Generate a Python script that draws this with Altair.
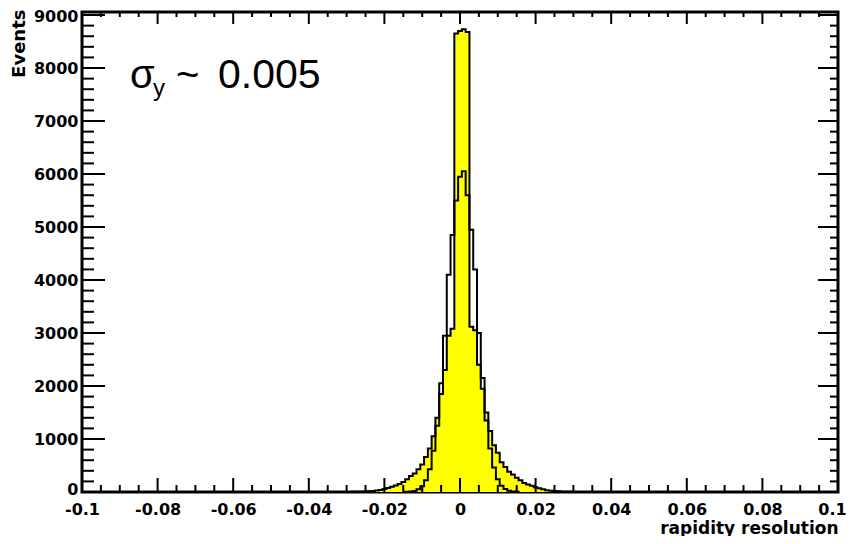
import altair as alt
import pandas as pd

# ---------------- data ----------------
BIN = 0.001
# yellow (filled) histogram: bins of width 0.001 starting at yellow_start
yellow_start = -0.0345
yellow_counts = [0, 0, 0, 1, 1, 2, 3, 4, 6, 9, 13, 20, 28, 40, 55, 75, 100, 125, 150, 190,
                 240, 300, 350, 430, 520, 660, 820, 1050, 1400, 1850, 2300, 2950, 3080, 8650, 8700,
                 8730, 8680, 3120, 3050, 2400, 1950, 1500, 1150, 880, 740, 560, 470, 380, 330, 270,
                 220, 170, 140, 120, 90, 70, 50, 35, 25, 18, 12, 7, 5, 3, 2, 1, 1, 0, 0, 0]
# black (outline) histogram: bins of width 0.001 starting at black_start
black_start = -0.0145
black_counts = [3, 8, 20, 50, 110, 220, 430, 780, 1250, 2050, 2950, 4100, 4850, 5500, 5950,
                6050, 5600, 4950, 4200, 3000, 2150, 1350, 820, 460, 240, 120, 55, 25, 10, 4]

x_major = [-0.1, -0.08, -0.06, -0.04, -0.02, 0, 0.02, 0.04, 0.06, 0.08, 0.1]
x_minor = [round(-0.1 + 0.005 * i, 3) for i in range(41) if i % 4 != 0]
y_major = [0, 1000, 2000, 3000, 4000, 5000, 6000, 7000, 8000, 9000]
y_minor = [200 * i for i in range(46) if i % 5 != 0]

W, H = 756, 480


def area_pts(start, counts):
    n = len(counts)
    xs_ = [round(start + i * BIN, 5) for i in range(n)] + [round(start + n * BIN, 5)]
    ys_ = list(counts) + [counts[-1]]
    return pd.DataFrame({"x": xs_, "y": ys_})


def line_pts(start, counts):
    n = len(counts)
    xs_ = [round(start + i * BIN, 5) for i in range(n)]
    end = round(start + n * BIN, 5)
    pts = [(xs_[0], 0)] + list(zip(xs_, counts)) + [(end, counts[-1]), (end, 0)]
    df = pd.DataFrame(pts, columns=["x", "y"])
    df["o"] = range(len(df))
    return df


ya = area_pts(yellow_start, yellow_counts)
yl = line_pts(yellow_start, yellow_counts)
bl = line_pts(black_start, black_counts)

xs = alt.Scale(domain=[-0.1, 0.1], nice=False, zero=False)
ys = alt.Scale(domain=[0, 9057], nice=False, zero=False)

FONT = "DejaVu Sans"

x_axis = alt.Axis(values=x_major, labelExpr="'' + datum.value", ticks=False, tickSize=0,
                  domain=False, grid=False, labelFont=FONT, labelFontWeight="bold",
                  labelFontSize=16, labelColor="black", labelPadding=9, labelFlush=False,
                  labelOffset={"condition": {"test": "datum.value == 0.1", "value": -6},
                               "value": 0},
                  title="rapidity resolution", titleFont=FONT, titleFontWeight="bold",
                  titleFontSize=17, titleColor="black", titleX=W, titleY=36,
                  titleAlign="right", titleBaseline="middle")
y_axis = alt.Axis(values=y_major, labelExpr="'' + datum.value", ticks=False, tickSize=0,
                  domain=False, grid=False, labelFont=FONT, labelFontWeight="bold",
                  labelFontSize=16, labelColor="black", labelPadding=4, labelFlush=False,
                  labelOffset={"condition": [{"test": "datum.value == 0", "value": -3},
                                             {"test": "datum.value == 9000", "value": 1}],
                               "value": 0},
                  title="Events", titleFont=FONT, titleFontWeight="bold",
                  titleFontSize=18, titleColor="black", titleX=-63, titleY=-3,
                  titleAngle=270, titleAlign="right", titleBaseline="middle")

X = lambda f: alt.X(f, scale=xs, axis=x_axis, title="rapidity resolution")
Y = lambda f: alt.Y(f, scale=ys, axis=y_axis, title="Events", stack=None)

area = alt.Chart(ya).mark_area(interpolate="step-after", color="#ffff00", opacity=1).encode(
    x=X("x:Q"), y=Y("y:Q"))
yline = alt.Chart(yl).mark_line(interpolate="step-after", color="black", strokeWidth=2).encode(
    x=X("x:Q"), y=Y("y:Q"), order="o:Q")
bline = alt.Chart(bl).mark_line(interpolate="step-after", color="black", strokeWidth=2).encode(
    x=X("x:Q"), y=Y("y:Q"), order="o:Q")


def xticks(vals, y1, y2):
    return alt.Chart(pd.DataFrame({"x": vals})).mark_rule(color="black", strokeWidth=2).encode(
        x=X("x:Q"), y=alt.value(y1), y2=alt.value(y2))


def yticks(vals, x1, x2):
    return alt.Chart(pd.DataFrame({"y": vals})).mark_rule(color="black", strokeWidth=2).encode(
        y=Y("y:Q"), x=alt.value(x1), x2=alt.value(x2))


ticks = [
    xticks(x_major, H, H - 14), xticks(x_minor, H, H - 7),
    xticks(x_major, 0, 12), xticks(x_minor, 0, 5),
    yticks(y_major, 0, 23), yticks(y_minor, 0, 12),
    yticks(y_major, W, W - 20), yticks(y_minor, W, W - 8),
]

ann_font = "Liberation Sans"


def label(t, x, y, size):
    return alt.Chart(pd.DataFrame({"t": [t]})).mark_text(
        align="left", baseline="alphabetic", fontSize=size, font=ann_font, color="black"
    ).encode(x=alt.value(x), y=alt.value(y), text="t:N")


texts = [label("σ", 48, 76, 40), label("y", 71, 84, 24), label("~", 94, 76, 40),
         label("0.005", 136, 76, 41)]

chart = alt.layer(area, yline, bline, *ticks, *texts).properties(
    width=W, height=H,
    autosize=alt.AutoSizeParams(type="none"),
    padding={"left": 74, "top": 4, "right": 8, "bottom": 44},
    background="white",
).configure_view(stroke="black", strokeWidth=3)

chart.save("out.html", embed_options={"renderer": "svg", "actions": False})
